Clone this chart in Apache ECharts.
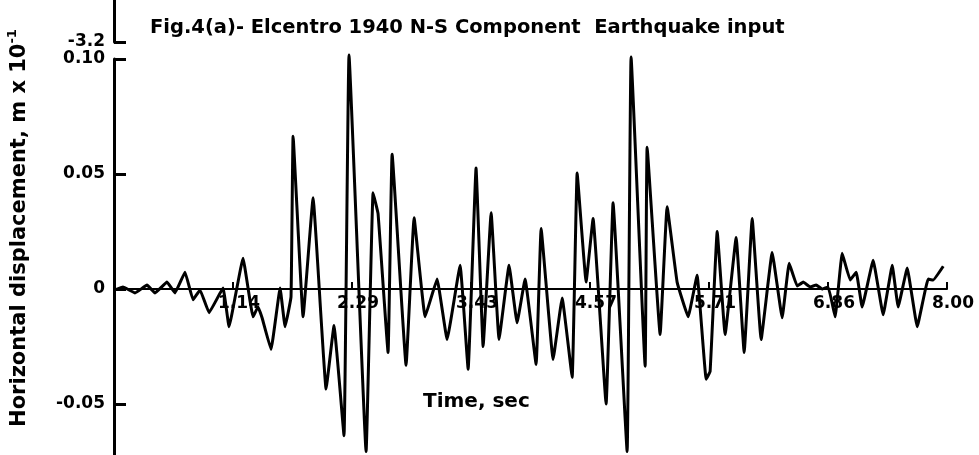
<!DOCTYPE html>
<html>
<head>
<meta charset="utf-8">
<script src="https://cdn.jsdelivr.net/npm/echarts@6/dist/echarts.min.js"></script>
<style>html,body{margin:0;padding:0;background:#fff}#c{width:979px;height:455px}</style>
</head>
<body>
<div id="c"></div>
<script>
// Time (s) and horizontal displacement (m x 10^-1)
const time = [0.010,0.086,0.202,0.317,0.394,0.509,0.586,0.682,0.759,0.826,0.913,1.047,1.105,1.239,1.335,1.383,1.422,1.508,1.595,1.643,1.700,1.720,1.816,1.912,2.037,2.113,2.209,2.257,2.421,2.488,2.536,2.632,2.671,2.805,2.882,2.988,3.103,3.199,3.324,3.401,3.477,3.545,3.622,3.698,3.794,3.871,3.948,4.054,4.102,4.217,4.304,4.400,4.448,4.534,4.601,4.726,4.793,4.928,4.966,5.101,5.120,5.245,5.312,5.408,5.514,5.600,5.687,5.725,5.793,5.869,5.975,6.052,6.129,6.215,6.321,6.417,6.484,6.561,6.619,6.686,6.744,6.801,6.859,6.926,6.993,7.070,7.128,7.185,7.291,7.387,7.474,7.531,7.618,7.714,7.819,7.867,7.964];
const displacement = [-0.0004,0.0009,-0.0017,0.0017,-0.0017,0.0030,-0.0017,0.0073,-0.0047,-0.0004,-0.0103,0.0004,-0.0164,0.0134,-0.0121,-0.0078,-0.0125,-0.0263,0.0004,-0.0164,-0.0034,0.0664,-0.0121,0.0397,-0.0435,-0.0159,-0.0638,0.1017,-0.0707,0.0418,0.0328,-0.0276,0.0586,-0.0332,0.0310,-0.0121,0.0043,-0.0220,0.0103,-0.0349,0.0526,-0.0250,0.0332,-0.0220,0.0103,-0.0147,0.0043,-0.0328,0.0263,-0.0306,-0.0039,-0.0384,0.0504,0.0030,0.0306,-0.0500,0.0375,-0.0707,0.1009,-0.0336,0.0616,-0.0198,0.0358,0.0030,-0.0121,0.0060,-0.0392,-0.0358,0.0250,-0.0198,0.0224,-0.0276,0.0306,-0.0220,0.0159,-0.0125,0.0112,0.0013,0.0030,0.0009,0.0017,0.0000,0.0009,-0.0121,0.0155,0.0039,0.0073,-0.0078,0.0125,-0.0112,0.0103,-0.0078,0.0091,-0.0164,0.0043,0.0039,0.0099];
const xTickLabels = ['', '1.14', '2.29', '3.43', '4.57', '5.71', '6.86', '8.00'];
const yTickLabels = {'0.1': '0.10', '0.05': '0.05', '0': '0', '-0.05': '-0.05'};
const topTickLabel = '-3.2';
const titleText = 'Fig.4(a)- Elcentro 1940 N-S Component  Earthquake input';
const xName = 'Time, sec';
const yName = 'Horizontal displacement, m x 10';
const yNameSup = '-1';

const FONT = 'DejaVu Sans';
const chart = echarts.init(document.getElementById('c'), null, {renderer: 'canvas'});
const pts = time.map((t, i) => [t, displacement[i]]);
chart.setOption({
  animation: false,
  backgroundColor: '#fff',
  title: [
    {text: titleText, left: 145, top: 13, textStyle: {fontFamily: FONT, fontSize: 19.5, fontWeight: 'bold', color: '#000'}},
    {text: xName, left: 418, top: 387, textStyle: {fontFamily: FONT, fontSize: 20, fontWeight: 'bold', color: '#000'}}
  ],
  grid: [
    {left: 114, top: 59, right: 32, bottom: -64, containLabel: false, outerBoundsMode: 'none'},
    {left: 114, top: -30, right: 32, bottom: 413, containLabel: false, outerBoundsMode: 'none'},
    {left: 114, top: 59, right: 32, bottom: 166, containLabel: false, outerBoundsMode: 'none'}
  ],
  xAxis: [
    {type: 'value', gridIndex: 0, min: 0, max: 8, show: false},
    {type: 'value', gridIndex: 1, show: false, min: 0, max: 8},
    {
      type: 'value', gridIndex: 2, min: 0, max: 8, interval: 8 / 7, position: 'bottom',
      axisLine: {onZero: false, lineStyle: {color: '#000', width: 2}},
      axisTick: {inside: true, length: 7, lineStyle: {color: '#000', width: 2}},
      axisLabel: {margin: 6, color: '#000', fontFamily: FONT, fontSize: 17, fontWeight: 'bold', padding: [0, 0, 0, 12],
        formatter: (v) => xTickLabels[Math.round(v * 7 / 8)] || ''},
      splitLine: {show: false}
    }
  ],
  yAxis: [
    {
      type: 'value', gridIndex: 0, min: -0.1, max: 0.1, interval: 0.05,
      axisLine: {show: true, onZero: false, lineStyle: {color: '#000', width: 3}},
      axisTick: {inside: true, length: 12, lineStyle: {color: '#000', width: 3}},
      axisLabel: {margin: 9, color: '#000', fontFamily: FONT, fontSize: 17, fontWeight: 'bold',
        formatter: (v) => { const k = String(Math.round(v * 100) / 100); return yTickLabels[k] !== undefined ? yTickLabels[k] : ''; }},
      splitLine: {show: false}
    },
    {
      type: 'value', gridIndex: 1, min: -3.2, max: -2.4, interval: 0.8,
      axisLine: {show: true, onZero: false, lineStyle: {color: '#000', width: 3}},
      axisTick: {inside: true, length: 12, lineStyle: {color: '#000', width: 3}},
      axisLabel: {margin: 9, color: '#000', fontFamily: FONT, fontSize: 17, fontWeight: 'bold',
        formatter: (v) => Math.abs(v + 3.2) < 1e-6 ? topTickLabel : ''},
      splitLine: {show: false}
    },
    {type: 'value', gridIndex: 2, min: 0, max: 0.1, show: false}
  ],
  graphic: [{
    type: 'text', x: 20, y: 228, rotation: Math.PI / 2, silent: true,
    style: {
      text: yName + '{sup|' + yNameSup + '}', align: 'center', verticalAlign: 'middle',
      fontFamily: FONT, fontSize: 21, fontWeight: 'bold', fill: '#000',
      rich: {sup: {fontFamily: FONT, fontSize: 13, fontWeight: 'bold', fill: '#000', padding: [0, 0, 14, 0]}}
    }
  }],
  series: [{
    type: 'line', xAxisIndex: 0, yAxisIndex: 0, data: pts, showSymbol: false, clip: false,
    smooth: 0.08, lineStyle: {color: '#000', width: 3}
  }]
});
</script>
</body>
</html>
